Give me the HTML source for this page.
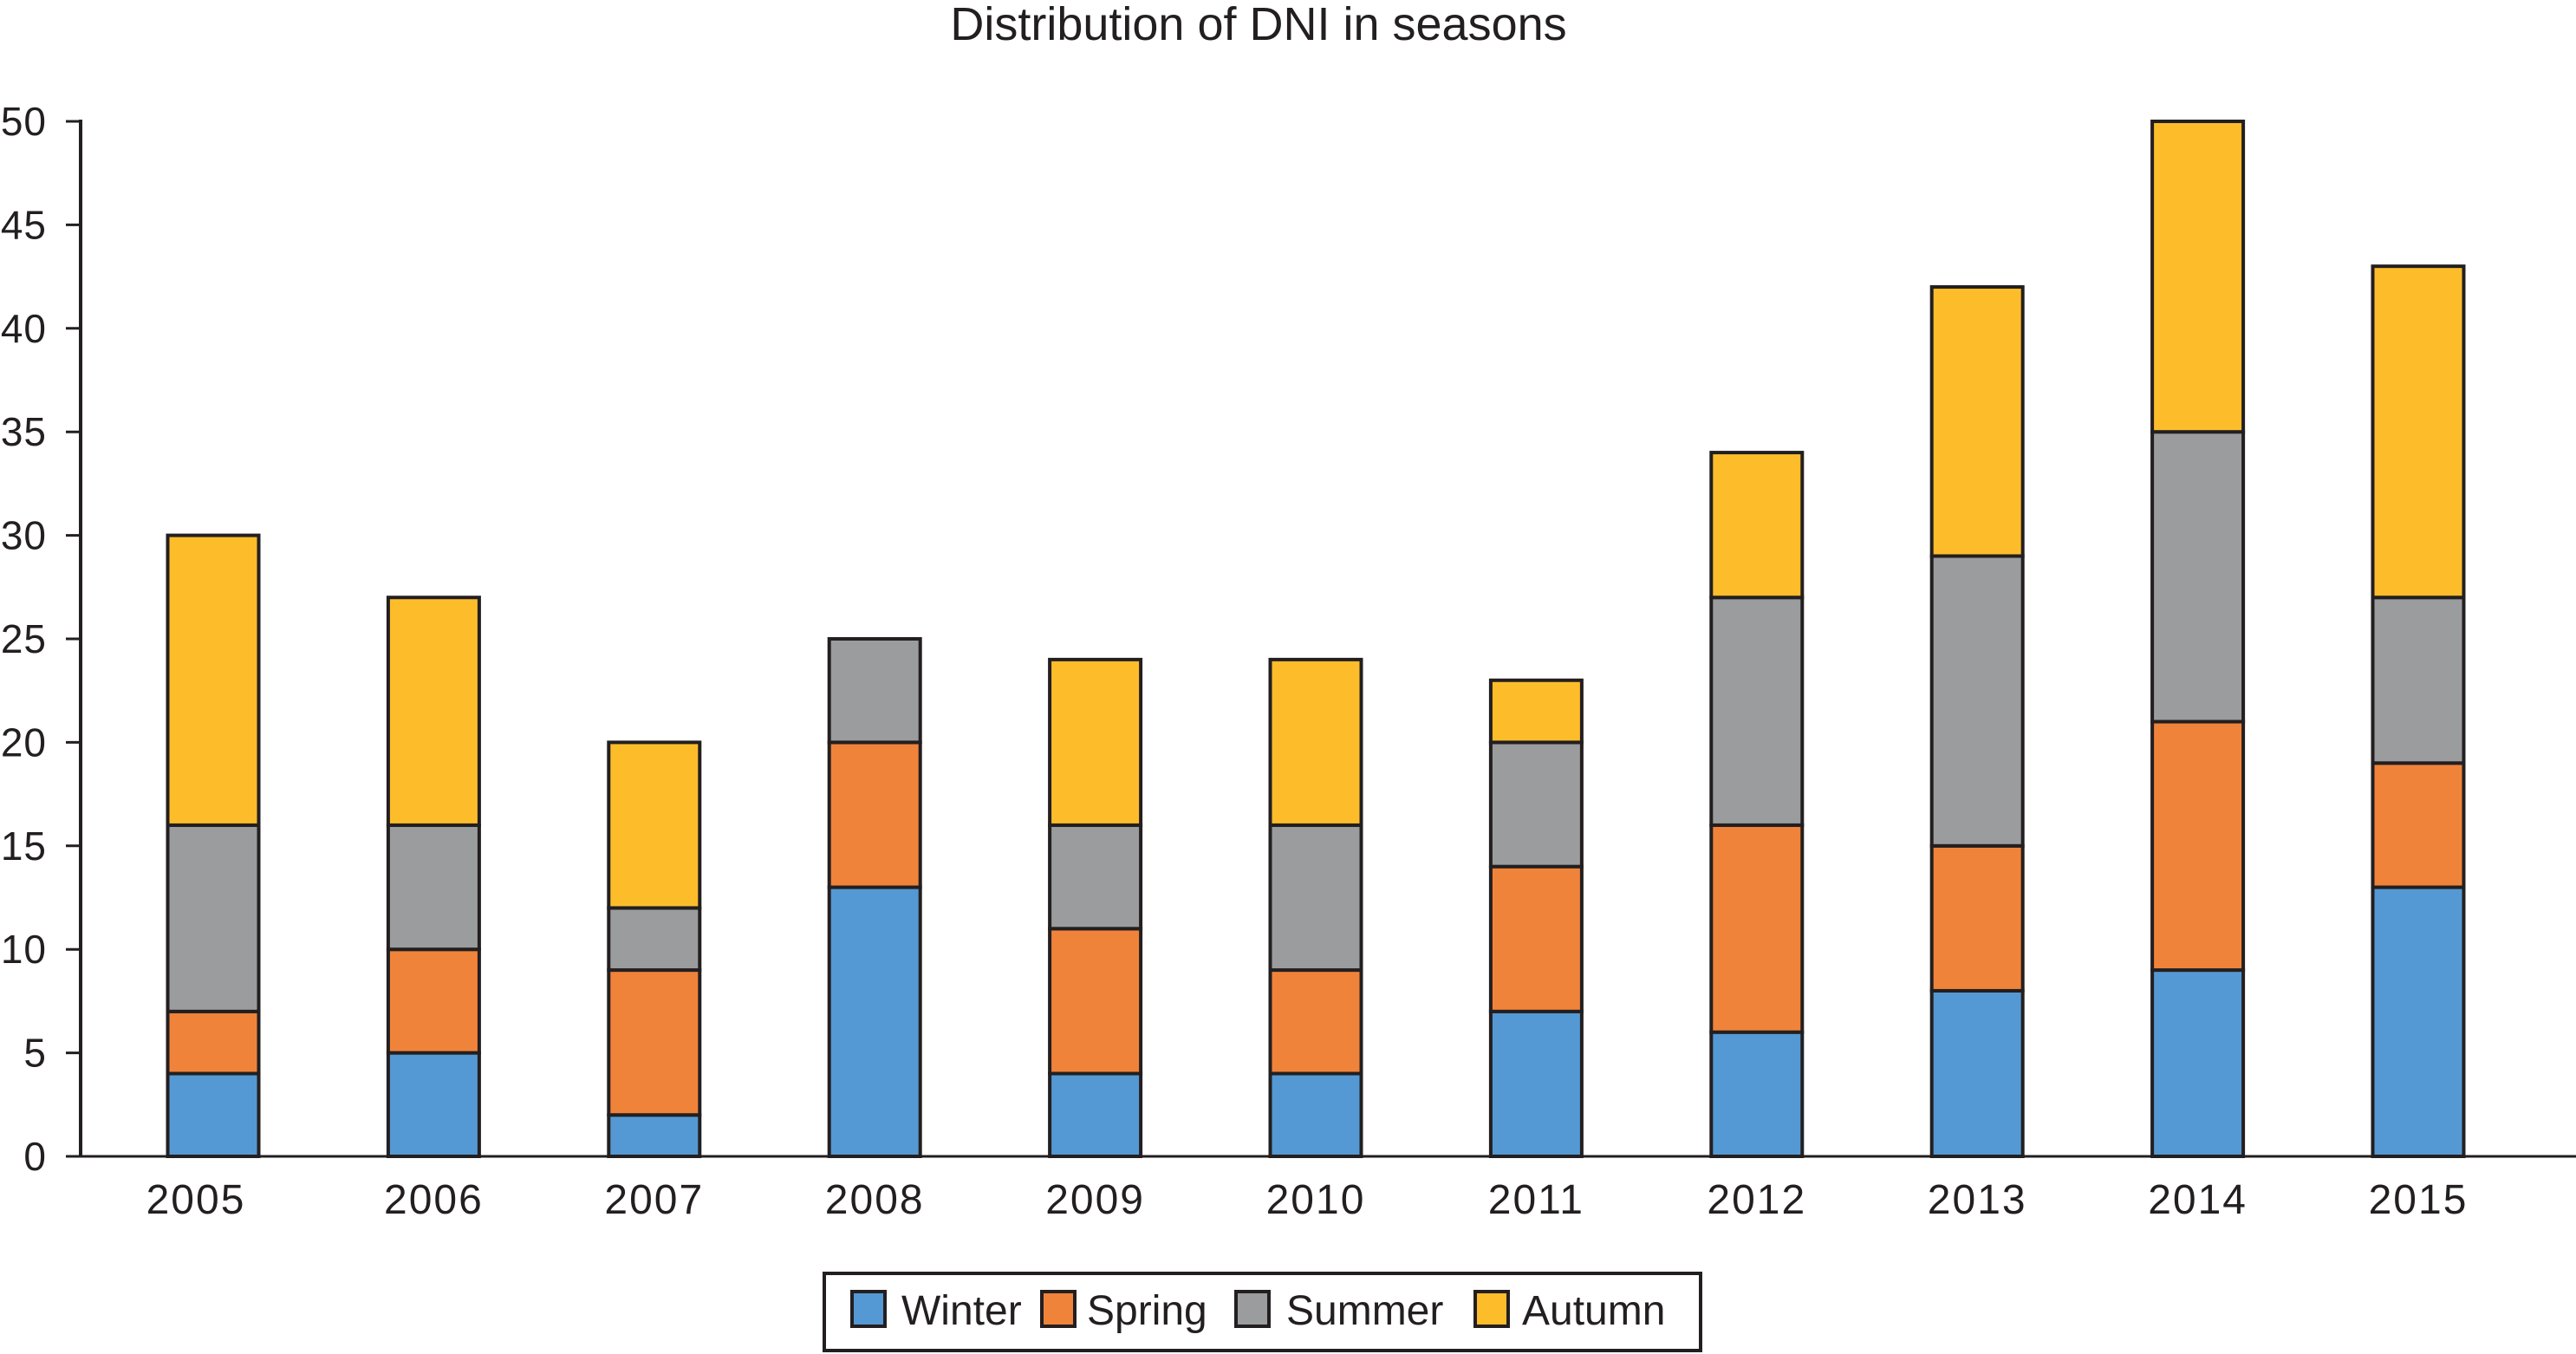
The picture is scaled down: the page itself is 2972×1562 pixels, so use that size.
<!DOCTYPE html>
<html><head><meta charset="utf-8"><style>
html,body{margin:0;padding:0;background:#fff;}
svg{display:block;font-family:"Liberation Sans",sans-serif;}
</style></head><body>
<svg id="chart" width="2972" height="1562" viewBox="0 0 2972 1562">
<text x="1452" y="46" font-size="54" text-anchor="middle" fill="#231f20">Distribution of DNI in seasons</text>
<g id="plot"></g>
<g>
<rect x="951" y="1469" width="1011" height="89" fill="#fff" stroke="#231f20" stroke-width="4"/>
<rect x="983" y="1490" width="38" height="40" fill="#5499d3" stroke="#231f20" stroke-width="4"/>
<text x="1040" y="1528" font-size="48" fill="#231f20">Winter</text>
<rect x="1202" y="1490" width="38" height="40" fill="#f0833a" stroke="#231f20" stroke-width="4"/>
<text x="1254" y="1528" font-size="48" fill="#231f20">Spring</text>
<rect x="1426" y="1490" width="38" height="40" fill="#9a9c9d" stroke="#231f20" stroke-width="4"/>
<text x="1484" y="1528" font-size="48" fill="#231f20">Summer</text>
<rect x="1702" y="1490" width="38" height="40" fill="#fdbd2b" stroke="#231f20" stroke-width="4"/>
<text x="1756" y="1528" font-size="48" fill="#231f20">Autumn</text>
</g>
</svg>
<script>
const years = ["2005","2006","2007","2008","2009","2010","2011","2012","2013","2014","2015"];
const winter = [4,5,2,13,4,4,7,6,8,9,13];
const spring = [3,5,7,7,7,5,7,10,7,12,6];
const summer = [9,6,3,5,5,7,6,11,14,14,8];
const autumn = [14,11,8,0,8,8,3,7,13,15,16];
const yTicks = [0,5,10,15,20,25,30,35,40,45,50];

const NS="http://www.w3.org/2000/svg";
const plot=document.getElementById('plot');
const y0=1334, y50=140, axisX=93, x0c=246, step=254.4, bw=105;
function yScale(v){return y0-(y0-y50)*v/50;}
function xScale(i){return x0c+i*step;}
function mk(tag,attrs){const e=document.createElementNS(NS,tag);for(const k in attrs)e.setAttribute(k,attrs[k]);plot.appendChild(e);return e;}

const series=[["winter",winter,"#5499d3"],["spring",spring,"#f0833a"],["summer",summer,"#9a9c9d"],["autumn",autumn,"#fdbd2b"]];
years.forEach((yr,i)=>{
  let base=0;
  series.forEach(([nm,arr,col])=>{
    const v=arr[i];
    if(v>0){
      const r=mk('rect',{x:xScale(i)-bw/2,y:yScale(base+v),width:bw,height:yScale(base)-yScale(base+v),fill:col,stroke:'#231f20','stroke-width':4});
      
      
    }
    base+=v;
  });
  const t=mk('text',{x:xScale(i)-(i===0?20:0),y:1400,'font-size':48,'letter-spacing':2,'text-anchor':'middle',fill:'#231f20'});
  t.textContent=yr;
  
  
});
yTicks.forEach(v=>{
  const l=mk('line',{x1:76,x2:axisX,y1:yScale(v),y2:yScale(v),stroke:'#231f20','stroke-width':3});
  
  
  const t=mk('text',{x:54,y:yScale(v)+16,'font-size':46,'letter-spacing':1,'text-anchor':'end',fill:'#231f20'});
  t.textContent=v;
  
  
});
const ya=mk('line',{x1:axisX,x2:axisX,y1:yScale(50)-2,y2:y0,stroke:'#231f20','stroke-width':4});


const xa=mk('line',{x1:76,x2:2972,y1:y0,y2:y0,stroke:'#231f20','stroke-width':3});


</script>
</body></html>
